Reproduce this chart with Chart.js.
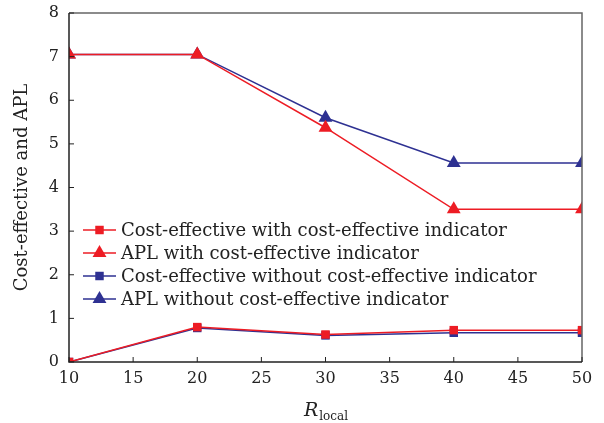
<!DOCTYPE html>
<html>
<head>
<meta charset="utf-8">
<script src="https://cdn.jsdelivr.net/npm/chart.js@4/dist/chart.umd.min.js"></script>
<style>
  html, body { margin: 0; padding: 0; background: #fff; }
  #wrap { width: 604px; height: 423px; }
</style>
</head>
<body>
<div id="wrap"><canvas id="chart" width="604" height="423"></canvas></div>
<script>
// data
const rLocal = [10, 20, 30, 40, 50];
const costWith = [0, 0.80, 0.63, 0.73, 0.73];
const aplWith = [7.05, 7.05, 5.37, 3.50, 3.50];
const costWithout = [0, 0.78, 0.61, 0.67, 0.67];
const aplWithout = [7.05, 7.05, 5.60, 4.56, 4.56];
const xTicks = [10, 15, 20, 25, 30, 35, 40, 45, 50];
const yTicks = [0, 1, 2, 3, 4, 5, 6, 7, 8];

const RED = '#ed1c24';
const BLUE = '#2e3192';
const SERIF = '"DejaVu Serif", serif';

function pts(ys) {
    return rLocal.map((x, i) => ({ x, y: ys[i] }));
}

function series(label, ys, color, style, radius) {
    return {
        label,
        data: pts(ys),
        borderColor: color,
        backgroundColor: color,
        borderWidth: 1.5,
        pointStyle: style,
        pointRadius: radius,
        pointHoverRadius: radius,
        pointBorderWidth: 0,
        tension: 0,
    };
}

// inward ticks, frame, x title with subscript, and line+marker legend
const decor = {
    id: 'decor',
    afterDatasetsDraw(chart) {
        const { ctx, chartArea: a, scales } = chart;
        ctx.save();
        // frame
        ctx.lineWidth = 1.5;
        ctx.strokeStyle = '#666';
        ctx.beginPath();
        ctx.moveTo(a.left, a.top); ctx.lineTo(a.right, a.top); ctx.lineTo(a.right, a.bottom);
        ctx.stroke();
        ctx.strokeStyle = '#222';
        ctx.beginPath();
        ctx.moveTo(a.left, a.top); ctx.lineTo(a.left, a.bottom); ctx.lineTo(a.right, a.bottom);
        ctx.stroke();
        // ticks
        ctx.lineWidth = 1;
        ctx.beginPath();
        xTicks.forEach(v => {
            const x = scales.x.getPixelForValue(v);
            ctx.moveTo(x, a.bottom); ctx.lineTo(x, a.bottom - 5);
        });
        yTicks.forEach(v => {
            const y = scales.y.getPixelForValue(v);
            ctx.moveTo(a.left, y); ctx.lineTo(a.left + 5, y);
        });
        ctx.stroke();

        // x title R_local
        ctx.fillStyle = '#222';
        ctx.textBaseline = 'alphabetic';
        const cx = (a.left + a.right) / 2;
        ctx.font = 'italic 19px ' + SERIF;
        const wR = ctx.measureText('R').width;
        ctx.font = '12px ' + SERIF;
        const wSub = ctx.measureText('local').width;
        const x0 = cx - (wR + wSub) / 2;
        ctx.font = 'italic 19px ' + SERIF;
        ctx.fillText('R', x0, 416);
        ctx.font = '12px ' + SERIF;
        ctx.fillText('local', x0 + wR + 1, 420);

        // legend
        ctx.font = '18px ' + SERIF;
        ctx.textBaseline = 'middle';
        chart.data.datasets.forEach((ds, i) => {
            const y = 230 + i * 23;
            ctx.strokeStyle = ds.borderColor;
            ctx.lineWidth = 1.5;
            ctx.beginPath();
            ctx.moveTo(83, y); ctx.lineTo(116, y);
            ctx.stroke();
            ctx.fillStyle = ds.backgroundColor;
            Chart.helpers.drawPoint(ctx, { pointStyle: ds.pointStyle, radius: ds.pointRadius, borderWidth: 0 }, 99.5, y);
            ctx.fillStyle = '#222';
            ctx.fillText(ds.label, 121, y + 1);
        });
        ctx.restore();
    }
};

new Chart(document.getElementById('chart'), {
    type: 'line',
    data: {
        datasets: [
            series('Cost-effective with cost-effective indicator', costWith, RED, 'rect', 6),
            series('APL with cost-effective indicator', aplWith, RED, 'triangle', 8),
            series('Cost-effective without cost-effective indicator', costWithout, BLUE, 'rect', 6),
            series('APL without cost-effective indicator', aplWithout, BLUE, 'triangle', 8),
        ],
    },
    options: {
        responsive: false,
        animation: false,
        layout: { padding: { top: 13, right: 22, left: 0, bottom: 0 } },
        plugins: {
            legend: { display: false },
            tooltip: { enabled: false },
        },
        scales: {
            x: {
                type: 'linear',
                min: 10, max: 50,
                afterBuildTicks: s => { s.ticks = xTicks.map(v => ({ value: v })); },
                afterFit: s => { s.height = 61; s.paddingLeft = 0; s.paddingRight = 0; },
                grid: { display: false, drawTicks: false },
                border: { display: false },
                ticks: { color: '#222', font: { family: SERIF, size: 16 }, padding: 7 },
            },
            y: {
                min: 0, max: 8,
                afterBuildTicks: s => { s.ticks = yTicks.map(v => ({ value: v })); },
                afterFit: s => { s.width = 69; s.paddingTop = 0; s.paddingBottom = 0; },
                grid: { display: false, drawTicks: false },
                border: { display: false },
                ticks: { color: '#222', font: { family: SERIF, size: 16 }, padding: 10 },
                title: {
                    display: true,
                    text: 'Cost-effective and APL',
                    color: '#222',
                    font: { family: SERIF, size: 18 },
                    padding: { top: 12, bottom: 0 },
                },
            },
        },
    },
    plugins: [decor],
});
</script>
</body>
</html>
